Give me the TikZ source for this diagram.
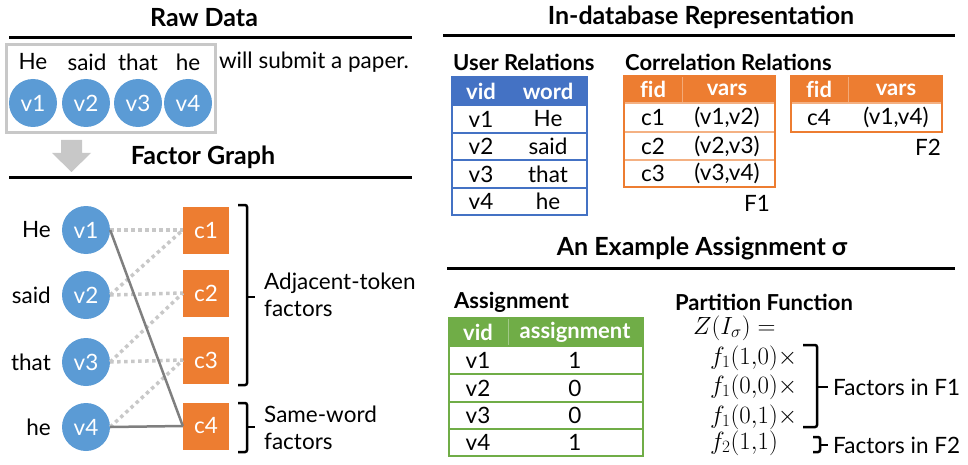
\documentclass[tikz,border=0pt]{standalone}
\usepackage{fontspec}
\setmainfont{Lato}
\definecolor{vblue}{HTML}{5B9BD5}
\definecolor{forange}{HTML}{ED7D31}
\definecolor{lorange}{HTML}{F4B183}
\definecolor{tblue}{HTML}{4472C4}
\definecolor{tgreen}{HTML}{70AD47}
\definecolor{lgray}{HTML}{C8C8C8}
\definecolor{dgray}{HTML}{7F7F7F}
\begin{document}
\begin{tikzpicture}[x=1pt,y=-1pt,
  title/.style={font=\fontsize{25}{29}\selectfont\bfseries, inner sep=0},
  txt/.style={font=\fontsize{22.5}{27}\selectfont, inner sep=0},
  mth/.style={font=\fontsize{25}{29}\selectfont, inner sep=0, anchor=west},
  sub/.style={font=\fontsize{22}{26}\selectfont\bfseries, inner sep=0, anchor=west},
  hdr/.style={font=\fontsize{22}{26}\selectfont\bfseries, text=white, inner sep=0},
  var/.style={circle, fill=vblue, minimum size=48, inner sep=0, text=white, font=\fontsize{22.5}{26}\selectfont},
  fac/.style={rectangle, fill=forange, minimum width=46, minimum height=47, inner sep=0, text=white, font=\fontsize{22.5}{26}\selectfont},
  rulel/.style={line width=3},
  dotedge/.style={lgray, line width=3.5, dash pattern=on 3.5 off 3.5},
  soledge/.style={dgray, line width=2.5},
  brk/.style={line width=2.5, rounded corners=2}]
\useasboundingbox (0,0) rectangle (968,465);

% ---------- Raw Data ----------
\node[title] (tRaw) at (204,18) {Raw Data};
\draw[rulel] (9,38) -- (412,38);
\draw[lgray, line width=3] (6,45) rectangle (215,133);
\node[txt] (w1) at (33,62) {He};
\node[txt] (w2) at (87,62) {said};
\node[txt] (w3) at (138,62) {that};
\node[txt] (w4) at (188,62) {he};
\node[txt] (wrest) at (314,62) {will submit a paper.};
\node[var] (r1) at (33,103) {v1};
\node[var] (r2) at (86,103) {v2};
\node[var] (r3) at (138,103) {v3};
\node[var] (r4) at (188,103) {v4};
\fill[lgray] (61,140) -- (82,140) -- (82,153) -- (91,153) -- (71.5,172) -- (52,153) -- (61,153) -- cycle;

% ---------- Factor Graph ----------
\node[title] (tFG) at (203,157) {Factor Graph};
\draw[rulel] (9,178) -- (412,178);
\node[var] (v1) at (86,230) {v1};
\node[var] (v2) at (86,295) {v2};
\node[var] (v3) at (86,362) {v3};
\node[var] (v4) at (86,427) {v4};
\node[txt, anchor=east] (l1) at (51,230) {He};
\node[txt, anchor=east] (l2) at (51,295) {said};
\node[txt, anchor=east] (l3) at (51,362) {that};
\node[txt, anchor=east] (l4) at (51,427) {he};
\node[fac] (c1) at (206,230) {c1};
\node[fac] (c2) at (206,293) {c2};
\node[fac] (c3) at (206,360) {c3};
\node[fac] (c4) at (206,426) {c4};
\draw[dotedge] (v1.east) -- (c1.west);
\draw[dotedge] (v2.east) -- (c1.west);
\draw[dotedge] (v2.east) -- (c2.west);
\draw[dotedge] (v3.east) -- (c2.west);
\draw[dotedge] (v3.east) -- (c3.west);
\draw[dotedge] (v4.east) -- (c3.west);
\draw[soledge] (v1.east) -- (c4.west);
\draw[soledge] (v4.east) -- (c4.west);
\draw[brk] (238,205) -- (247,205) -- (247,385) -- (238,385);
\draw[line width=2.5] (247,297) -- (255,297);
\draw[brk] (238,403) -- (247,403) -- (247,452) -- (238,452);
\draw[line width=2.5] (247,427) -- (255,427);
\node[txt, anchor=west, align=left] (adj) at (264,295) {Adjacent-token\\factors};
\node[txt, anchor=west, align=left] (same) at (264,428) {Same-word\\factors};

% ---------- In-database Representation ----------
\node[title] (tDB) at (701,17) {In-database Representation};
\draw[rulel] (443,36) -- (955,36);
\node[sub] (sUR) at (453,62) {User Relations};
\node[sub] (sCR) at (625,62) {Correlation Relations};

% user table
\fill[tblue] (452,77) rectangle (587,105);
\draw[tblue, line width=1.2] (452,77) rectangle (587,215);
\foreach \yy in {105,133,160,188} \draw[tblue, line width=1.2] (452,\yy) -- (587,\yy);
\node[hdr] (uh1) at (481,91) {vid};
\node[hdr] (uh2) at (548,91) {word};
\node[txt] (u11) at (481,119) {v1}; \node[txt] (u12) at (548,119) {He};
\node[txt] (u21) at (481,146.5) {v2}; \node[txt] (u22) at (548,146.5) {said};
\node[txt] (u31) at (481,174) {v3}; \node[txt] (u32) at (548,174) {that};
\node[txt] (u41) at (481,201.5) {v4}; \node[txt] (u42) at (548,201.5) {he};

% F1 table
\fill[forange] (624,76) rectangle (775,103);
\draw[white, opacity=0.35, line width=1] (682,77) -- (682,102);
\draw[lorange, line width=1.5] (624,103) rectangle (775,187);
\foreach \yy in {132,160} \draw[lorange, line width=1.5] (624,\yy) -- (775,\yy);
\draw[forange, line width=1.2] (624,76) rectangle (775,187);
\node[hdr] (f1h1) at (653,89.5) {f\kern0pt id};
\node[hdr] (f1h2) at (727,89.5) {vars};
\node[txt] (f111) at (653,117.5) {c1}; \node[txt] (f112) at (727,117.5) {(v1,v2)};
\node[txt] (f121) at (653,146) {c2}; \node[txt] (f122) at (727,146) {(v2,v3)};
\node[txt] (f131) at (653,173.5) {c3}; \node[txt] (f132) at (727,173.5) {(v3,v4)};
\node[txt] (F1) at (757,203) {F1};

% F2 table
\fill[forange] (791,76) rectangle (942,103);
\draw[white, opacity=0.35, line width=1] (848,77) -- (848,102);
\draw[lorange, line width=1.5] (791,103) rectangle (942,132);
\draw[forange, line width=1.2] (791,76) rectangle (942,132);
\node[hdr] (f2h1) at (819,89.5) {f\kern0pt id};
\node[hdr] (f2h2) at (896,89.5) {vars};
\node[txt] (f211) at (819,117.5) {c4}; \node[txt] (f212) at (896,117.5) {(v1,v4)};
\node[txt] (F2) at (928,147) {F2};

% ---------- An Example Assignment ----------
\node[title] (tEA) at (702,248) {An Example Assignment σ};
\draw[rulel] (447,268) -- (955,268);
\node[sub] (sAs) at (454,302) {Assignment};
\node[sub] (sPF) at (675,302) {Partition Function};

\fill[tgreen] (449,318) rectangle (643,346);
\draw[white, opacity=0.35, line width=1] (508,319) -- (508,345);
\draw[tgreen, line width=1.2] (449,318) rectangle (643,456);
\foreach \yy in {346,374,402,429} \draw[tgreen, line width=1.2] (449,\yy) -- (643,\yy);
\node[hdr] (ah1) at (478,332) {vid};
\node[hdr] (ah2) at (575,332) {assignment};
\node[txt] (a11) at (478,360) {v1}; \node[txt] (a12) at (575,360) {1};
\node[txt] (a21) at (478,388) {v2}; \node[txt] (a22) at (575,388) {0};
\node[txt] (a31) at (478,415.5) {v3}; \node[txt] (a32) at (575,415.5) {0};
\node[txt] (a41) at (478,442.5) {v4}; \node[txt] (a42) at (575,442.5) {1};

\node[mth] (z) at (693,328) {$Z(I_\sigma) =$};
\node[mth] (p1) at (710,358) {$f_1(1{,}0)\times$};
\node[mth] (p2) at (710,387) {$f_1(0{,}0)\times$};
\node[mth] (p3) at (710,417) {$f_1(0{,}1)\times$};
\node[mth] (p4) at (710,443) {$f_2(1{,}1)$};
\draw[brk] (803,345) -- (817,345) -- (817,427) -- (803,427);
\draw[line width=2.5] (817,387) -- (828,387);
\draw[brk] (813,437) -- (820,437) -- (820,452) -- (813,452);
\draw[line width=2.5] (820,445) -- (828,445);
\node[txt, anchor=west] (ff1) at (833,387) {Factors in F1};
\node[txt, anchor=west] (ff2) at (833,445) {Factors in F2};
\end{tikzpicture}
\end{document}
